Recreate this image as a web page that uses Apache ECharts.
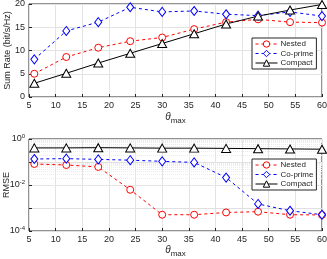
<!DOCTYPE html>
<html><head><meta charset="utf-8">
<script src="https://cdn.jsdelivr.net/npm/echarts@6/dist/echarts.min.js"></script>
<style>html,body{margin:0;padding:0;background:#fff}#c{width:327px;height:259px}</style>
</head><body><div id="c"></div>
<script>
const theta = [6, 12, 18, 24, 30, 36, 42, 48, 54, 60];
const xTicks = [5,10,15,20,25,30,35,40,45,50,55,60];
const rateNested  = [5.0, 8.6, 10.6, 12.0, 12.8, 14.6, 16.1, 16.7, 16.1, 16.0];
const rateCoprime = [8.1, 14.2, 16.1, 19.3, 18.3, 18.5, 17.8, 17.5, 18.3, 17.4];
const rateCompact = [2.95, 5.1, 7.3, 9.4, 11.5, 13.6, 15.7, 17.4, 18.7, 19.9];
const rmseNested  = [0.082, 0.074, 0.061, 0.0062, 0.00051, 0.00051, 0.00064, 0.00069, 0.00051, 0.0005];
const rmseCoprime = [0.135, 0.14, 0.13, 0.12, 0.107, 0.096, 0.021, 0.0015, 0.00076, 0.00051];
const rmseCompact = [0.41, 0.41, 0.42, 0.41, 0.40, 0.40, 0.39, 0.38, 0.37, 0.36];
const names = ['Nested', 'Co-prime', 'Compact'];

const FONT = 'Liberation Sans';
const TXT = '#262626';
const colors = ['#ff0000', '#0000ff', '#000000'];
const symbols = ['circle', 'diamond', 'triangle'];
const sizes = [7, [7, 9], [9, 8]];
const dashes = [[3, 3], [3, 3], 'solid'];

function pairs(ys) { return theta.map((x, i) => [x, ys[i]]); }

function mkSeries(name, i, data, idx) {
  return {
    name: name, type: 'line', xAxisIndex: idx, yAxisIndex: idx,
    data: pairs(data), symbol: symbols[i], symbolSize: sizes[i],
    itemStyle: { color: '#fff', borderColor: colors[i], borderWidth: 1 },
    lineStyle: { color: colors[i], width: 1, type: dashes[i] },
    emphasis: { disabled: true }, animation: false, z: 3
  };
}

const minorVals = [];
for (let e = -4; e < 0; e++) for (let k = 2; k <= 9; k++) minorVals.push(k * Math.pow(10, e));

const xAxisBase = (idx) => ({
  type: 'value', gridIndex: idx, min: 5, max: 60, interval: 5,
  axisLine: { show: false }, axisTick: { show: true, inside: true, length: 3, lineStyle: { color: TXT } },
  splitLine: { show: true, lineStyle: { color: '#e3e3e3', width: 1 } },
  axisLabel: { color: TXT, fontFamily: FONT, fontSize: 9, margin: 4 },
  name: '{t|θ}{s|max}', nameLocation: 'middle', nameGap: idx === 0 ? 13 : 12, nameMoveOverlap: false,
  nameTextStyle: { verticalAlign: 'top', rich: {
    t: { fontFamily: FONT, fontSize: 10, fontStyle: 'italic', color: TXT },
    s: { fontFamily: FONT, fontSize: 8, color: TXT, padding: [7, 0, 0, 0] } } }
});

const legendBase = (top) => ({
  data: names, left: 252, top: top, orient: 'vertical', itemWidth: 22, itemHeight: 8, itemGap: 1.5,
  padding: [2, 3, 2, 3], borderColor: '#262626', borderWidth: 1, backgroundColor: '#fff',
  lineStyle: { width: 1 }, itemStyle: { borderWidth: 1 },
  textStyle: { color: TXT, fontFamily: FONT, fontSize: 8, padding: [0, 0, 0, -2] }, selectedMode: false
});

const option = {
  animation: false,
  grid: [
    { left: 29, top: 4, width: 293, height: 93, show: true, borderColor: '#262626', borderWidth: 1, backgroundColor: 'transparent', outerBoundsMode: 'none', containLabel: false },
    { left: 29, top: 139, width: 293, height: 92, show: true, borderColor: '#262626', borderWidth: 1, backgroundColor: 'transparent', outerBoundsMode: 'none', containLabel: false }
  ],
  xAxis: [xAxisBase(0), xAxisBase(1)],
  yAxis: [
    { type: 'value', gridIndex: 0, min: 0, max: 20, interval: 5,
      axisLine: { show: false }, axisTick: { show: true, inside: true, length: 3, lineStyle: { color: TXT } },
      splitLine: { show: true, lineStyle: { color: '#e3e3e3', width: 1 } },
      axisLabel: { color: TXT, fontFamily: FONT, fontSize: 9, margin: 4 },
      name: 'Sum Rate (bit/s/Hz)', nameLocation: 'middle', nameGap: 17, nameMoveOverlap: false,
      nameTextStyle: { color: TXT, fontFamily: FONT, fontSize: 9 } },
    { type: 'log', logBase: 10, gridIndex: 1, min: 1e-4, max: 1,
      axisLine: { show: false }, axisTick: { show: true, inside: true, length: 3, lineStyle: { color: TXT } },
      splitLine: { show: true, lineStyle: { color: '#e0e0e0', width: 1 } },
      axisLabel: { color: TXT, fontFamily: FONT, fontSize: 9, margin: 4,
        formatter: function (v) {
          const e = Math.round(Math.log10(v));
          if (e % 2 !== 0) return '';
          return '{b|10}{e|' + (e === 0 ? '0' : '-' + Math.abs(e)) + '}';
        },
        rich: { b: { fontFamily: FONT, fontSize: 9, color: TXT },
                e: { fontFamily: FONT, fontSize: 6, color: TXT, padding: [0, 0, 6, 0] } } },
      name: 'RMSE', nameLocation: 'middle', nameGap: 18, nameMoveOverlap: false,
      nameTextStyle: { color: TXT, fontFamily: FONT, fontSize: 9 } }
  ],
  legend: [legendBase(38), legendBase(159)],
  series: [
    mkSeries(names[0], 0, rateNested, 0),
    mkSeries(names[1], 1, rateCoprime, 0),
    mkSeries(names[2], 2, rateCompact, 0),
    mkSeries(names[0], 0, rmseNested, 1),
    mkSeries(names[1], 1, rmseCoprime, 1),
    mkSeries(names[2], 2, rmseCompact, 1),
    { type: 'line', xAxisIndex: 1, yAxisIndex: 1, data: [], silent: true, z: 0,
      markLine: { silent: true, symbol: 'none', label: { show: false }, animation: false, z: 0,
        lineStyle: { color: '#ebebeb', width: 1, type: [1, 1] },
        data: minorVals.map(v => ({ yAxis: v })) } }
  ]
};
const chart = echarts.init(document.getElementById('c'), null, { renderer: 'canvas' });
chart.setOption(option);
</script></body></html>
